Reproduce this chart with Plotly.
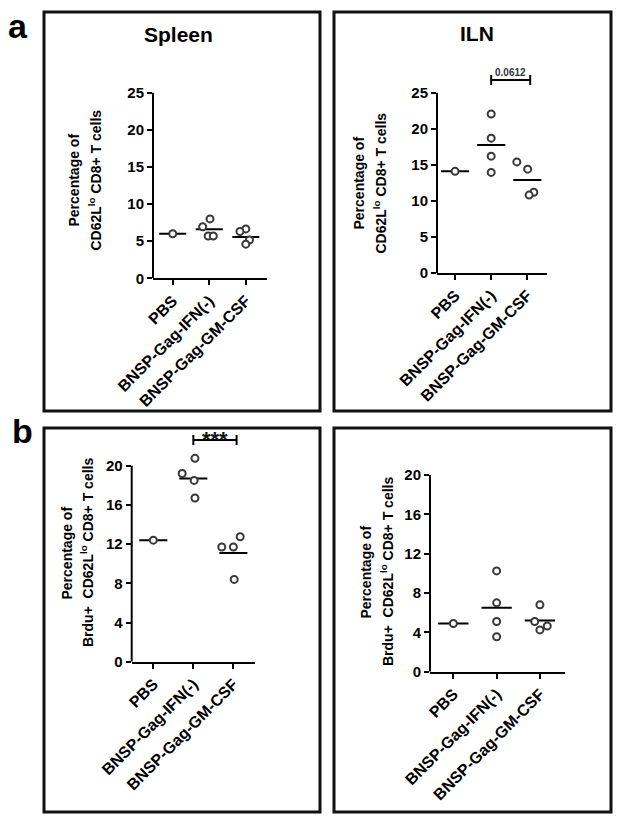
import plotly.graph_objects as go

# page body has an 8px margin: the figure fills the rest of the 624x826 window
PAGE_W, PAGE_H = 624, 826
OFF = 8
W, H = PAGE_W - 2 * OFF, PAGE_H - 2 * OFF

# ---------------- data ----------------
categories = ["PBS", "BNSP-Gag-IFN(-)", "BNSP-Gag-GM-CSF"]

spleen_pbs = [6.0]
spleen_ifn = [8.0, 6.95, 5.7, 5.7]
spleen_gm = [6.65, 6.3, 5.15, 4.6]
spleen_means = [6.0, 6.6, 5.55]

iln_pbs = [14.1]
iln_ifn = [22.05, 18.7, 16.2, 13.95]
iln_gm = [15.4, 14.4, 11.2, 10.8]
iln_means = [14.1, 17.75, 12.9]

brdu_spleen_pbs = [12.4]
brdu_spleen_ifn = [20.75, 19.2, 18.5, 16.7]
brdu_spleen_gm = [12.75, 11.7, 11.7, 8.4]
brdu_spleen_means = [12.4, 18.7, 11.1]

brdu_iln_pbs = [4.9]
brdu_iln_ifn = [10.25, 7.0, 5.1, 3.55]
brdu_iln_gm = [6.8, 5.1, 4.65, 4.25]
brdu_iln_means = [4.9, 6.5, 5.2]

y_ticks_a = [0, 5, 10, 15, 20, 25]
y_ticks_b = [0, 4, 8, 12, 16, 20]

# horizontal scatter offsets (layout of overlapping points, category units)
jit_spleen = [[0.0], [0.02, -0.18, -0.03, 0.11], [0.0, -0.16, 0.1, 0.0]]
jit_iln = [[0.0], [0.0, 0.0, 0.0, 0.0], [-0.29, 0.01, 0.18, 0.05]]
jit_brdu_spleen = [[0.0], [0.04, -0.28, 0.02, 0.04], [0.17, -0.29, 0.0, 0.02]]
jit_brdu_iln = [[0.0], [0.0, 0.0, 0.0, 0.0], [0.0, -0.12, 0.17, 0.0]]

FONT = "Arial, Liberation Sans, Helvetica, sans-serif"
HEADROOM = 1.1  # plot range extends above the drawn axis so high points stay visible

panels = [
    dict(groups=[spleen_pbs, spleen_ifn, spleen_gm], means=spleen_means, jit=jit_spleen,
         xpx=(153, 267), ypx=(92.7, 278.3), xr=(-0.54, 2.58), ymax=25, ticks=y_ticks_a,
         hw=0.37, ylab=("Percentage of", "CD62L<sup>lo</sup> CD8+ T cells"),
         ylx=(73.5, 95.5), yly=180),
    dict(groups=[iln_pbs, iln_ifn, iln_gm], means=iln_means, jit=jit_iln,
         xpx=(437, 547), ypx=(92.7, 273), xr=(-0.50, 2.545), ymax=25, ticks=y_ticks_a,
         hw=0.39, ylab=("Percentage of", "CD62L<sup>lo</sup> CD8+ T cells"),
         ylx=(358.5, 380.5), yly=183),
    dict(groups=[brdu_spleen_pbs, brdu_spleen_ifn, brdu_spleen_gm], means=brdu_spleen_means,
         jit=jit_brdu_spleen,
         xpx=(131.7, 255), ypx=(465.7, 661.7), xr=(-0.54, 2.54), ymax=20, ticks=y_ticks_b,
         hw=0.35, ylab=("Percentage of", "Brdu+&nbsp; CD62L<sup>lo</sup> CD8+ T cells"),
         ylx=(66.5, 87), yly=553),
    dict(groups=[brdu_iln_pbs, brdu_iln_ifn, brdu_iln_gm], means=brdu_iln_means,
         jit=jit_brdu_iln,
         xpx=(430, 565), ypx=(475, 671.7), xr=(-0.54, 2.58), ymax=20, ticks=y_ticks_b,
         hw=0.35, ylab=("Percentage of", "Brdu+&nbsp; CD62L<sup>lo</sup> CD8+ T cells"),
         ylx=(365.5, 387), yly=572),
]

fig = go.Figure()
annotations = []
shapes = []


def px_x(v):
    return (v - OFF) / W


def px_y(v):
    return 1 - (v - OFF) / H


for k, p in enumerate(panels, start=1):
    sfx = "" if k == 1 else str(k)
    xa, ya = "x" + sfx, "y" + sfx
    ybot, ytop = p["ypx"][1], p["ypx"][0]
    ytop_dom = ybot - (ybot - ytop) * HEADROOM
    p["dom_px"] = (ytop_dom, ybot)
    # mean lines
    mx, my = [], []
    for i, m in enumerate(p["means"]):
        mx += [i - p["hw"], i + p["hw"], None]
        my += [m, m, None]
    fig.add_trace(go.Scatter(x=mx, y=my, mode="lines", xaxis=xa, yaxis=ya,
                             line=dict(color="black", width=2), showlegend=False,
                             hoverinfo="skip"))
    # points
    for i, (vals, offs) in enumerate(zip(p["groups"], p["jit"])):
        fig.add_trace(go.Scatter(
            x=[i + o for o in offs], y=vals, mode="markers", xaxis=xa, yaxis=ya,
            marker=dict(symbol="circle", size=7, color="white",
                        line=dict(color="#383838", width=2)),
            cliponaxis=False, showlegend=False, name=categories[i]))

    fig.layout["xaxis" + sfx] = dict(
        domain=[px_x(p["xpx"][0]), px_x(p["xpx"][1])], range=list(p["xr"]),
        anchor=ya, tickmode="array", tickvals=[0, 1, 2], ticktext=categories,
        tickangle=-45, showline=True, linecolor="black", linewidth=2,
        ticks="outside", ticklen=5, tickwidth=2, tickcolor="black",
        showgrid=False, zeroline=False, automargin=False,
        tickfont=dict(family=FONT, size=16, color="black", weight="bold"))
    fig.layout["yaxis" + sfx] = dict(
        domain=[px_y(ybot), px_y(ytop_dom)], range=[0, p["ymax"] * HEADROOM],
        anchor=xa, tickmode="array", tickvals=p["ticks"],
        showline=False, ticks="outside", ticklen=5, tickwidth=2, tickcolor="black",
        showgrid=False, zeroline=False, automargin=False,
        tickfont=dict(family=FONT, size=15, color="black", weight="bold"))
    # y axis line only up to the top tick (Prism style)
    shapes.append(dict(type="line", xref=xa + " domain", yref=ya, x0=0, x1=0,
                       y0=0, y1=p["ymax"], line=dict(color="black", width=2)))

    for line_txt, lx in zip(p["ylab"], p["ylx"]):
        annotations.append(dict(
            text=line_txt, x=px_x(lx), y=px_y(p["yly"]), xref="paper", yref="paper",
            xanchor="center", yanchor="middle", textangle=-90, showarrow=False,
            font=dict(family=FONT, size=14, color="black", weight="bold")))

# panel boxes
for (x0, x1, y0, y1) in [(44, 320, 12, 411), (334, 611, 12, 411),
                         (44, 320, 428, 812), (334, 611, 428, 812)]:
    shapes.append(dict(type="rect", xref="paper", yref="paper",
                       x0=px_x(x0), x1=px_x(x1), y0=px_y(y1), y1=px_y(y0),
                       line=dict(color="#111111", width=3), fillcolor="rgba(0,0,0,0)"))

# panel titles and letters
annotations += [
    dict(text="Spleen", x=px_x(178), y=px_y(34), xref="paper", yref="paper",
         xanchor="center", yanchor="middle", showarrow=False,
         font=dict(family=FONT, size=21, color="black", weight="bold")),
    dict(text="ILN", x=px_x(476.5), y=px_y(33.5), xref="paper", yref="paper",
         xanchor="center", yanchor="middle", showarrow=False,
         font=dict(family=FONT, size=21, color="black", weight="bold")),
    dict(text="a", x=px_x(17.5), y=px_y(26), xref="paper", yref="paper",
         xanchor="center", yanchor="middle", showarrow=False,
         font=dict(family=FONT, size=34, color="black", weight="bold")),
    dict(text="b", x=px_x(22.5), y=px_y(431), xref="paper", yref="paper",
         xanchor="center", yanchor="middle", showarrow=False,
         font=dict(family=FONT, size=34, color="black", weight="bold")),
]

# significance brackets (vertical placement in page pixels above the plot)
brackets = [
    dict(panel=1, x0=1.0, x1=2.08, line_px=80, text_px=79.7, text="0.0612",
         size=10, color="#333333"),
    dict(panel=2, x0=1.0, x1=2.08, line_px=440, text_px=453.5, text="***",
         size=22, color="#111111"),
]
for b in brackets:
    p = panels[b["panel"]]
    sfx = str(b["panel"] + 1)
    xa, yref = "x" + sfx, "y" + sfx + " domain"
    top, bot = p["dom_px"]
    frac = lambda v: (bot - v) / (bot - top)
    yd = frac(b["line_px"])
    tk = 5.0 / (bot - top)
    shapes.append(dict(type="line", xref=xa, yref=yref, x0=b["x0"], x1=b["x1"],
                       y0=yd, y1=yd, line=dict(color="black", width=2)))
    for xe in (b["x0"], b["x1"]):
        shapes.append(dict(type="line", xref=xa, yref=yref, x0=xe, x1=xe,
                           y0=yd - tk, y1=yd + tk, line=dict(color="black", width=2)))
    annotations.append(dict(text=b["text"], xref=xa, yref=yref,
                            x=(b["x0"] + b["x1"]) / 2, y=frac(b["text_px"]),
                            xanchor="center", yanchor="bottom", showarrow=False,
                            font=dict(family=FONT, size=b["size"], color=b["color"],
                                      weight="bold")))

fig.update_layout(width=W, height=H,
                  margin=dict(l=0, r=0, t=0, b=0, pad=0, autoexpand=False),
                  paper_bgcolor="white", plot_bgcolor="white",
                  annotations=annotations, shapes=shapes, showlegend=False)

fig.write_html("out.html")
